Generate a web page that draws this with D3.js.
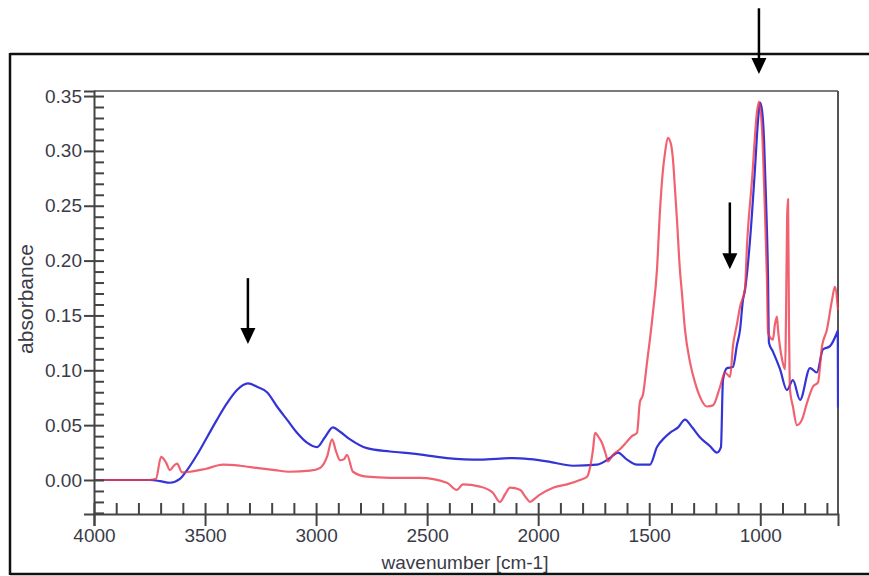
<!DOCTYPE html>
<html>
<head>
<meta charset="utf-8">
<script src="https://cdn.jsdelivr.net/npm/d3@7"></script>
<style>
  html, body { margin: 0; padding: 0; background: #fff; }
  svg { display: block; }
  text { font-family: "Liberation Sans", Arial, sans-serif; }
</style>
</head>
<body>
<svg id="chart" width="869" height="576"></svg>
<script>
// ---------------- data ----------------
const blueWn = [4000,3748,3703,3658,3613,3581,3536,3491,3446,3401,3356,3307,3266,3221,3176,3131,3086,3041,2996,2960,2924,2892,2847,2771,2667,2564,2411,2262,2113,2037,1960,1843,1735,1677,1641,1600,1555,1497,1465,1429,1407,1370,1339,1307,1272,1227,1195,1177,1168,1150,1123,1105,1091,1078,1069,1046,1024,1010,1001,992,983,974,965,961,943,911,880,853,821,776,745,718,686,655,651,650];
const blueAbs = [0.000,0.000,-0.001,-0.0025,0.001,0.009,0.023,0.039,0.055,0.070,0.082,0.088,0.085,0.080,0.067,0.055,0.043,0.034,0.030,0.039,0.048,0.044,0.037,0.029,0.026,0.024,0.020,0.0185,0.020,0.019,0.017,0.013,0.014,0.020,0.025,0.0185,0.014,0.014,0.030,0.039,0.043,0.048,0.055,0.048,0.039,0.031,0.025,0.030,0.091,0.102,0.103,0.123,0.137,0.164,0.173,0.219,0.283,0.328,0.344,0.337,0.310,0.255,0.183,0.125,0.117,0.101,0.082,0.091,0.073,0.102,0.098,0.119,0.122,0.134,0.136,0.066];

const redWn = [4000,3748,3721,3698,3676,3658,3640,3626,3604,3568,3500,3419,3343,3266,3185,3118,3027,2982,2951,2928,2910,2892,2874,2861,2834,2771,2667,2532,2411,2366,2339,2262,2204,2172,2149,2127,2082,2055,2037,2010,1992,1933,1870,1812,1780,1767,1753,1744,1726,1713,1695,1686,1663,1632,1600,1578,1555,1542,1528,1510,1497,1483,1465,1452,1438,1429,1416,1402,1393,1384,1375,1362,1353,1339,1316,1294,1272,1240,1213,1181,1159,1136,1123,1105,1091,1069,1060,1037,1015,1006,992,979,970,965,943,934,925,920,902,888,884,879,875,871,866,853,835,812,790,763,740,722,700,677,664,650];
const redAbs = [0.000,0.000,0.001,0.021,0.016,0.009,0.013,0.015,0.007,0.0075,0.010,0.014,0.013,0.011,0.009,0.0075,0.0085,0.011,0.021,0.037,0.026,0.018,0.019,0.023,0.0075,0.003,0.002,0.002,-0.0025,-0.009,-0.004,-0.006,-0.0116,-0.020,-0.013,-0.007,-0.009,-0.016,-0.020,-0.016,-0.0134,-0.007,-0.004,0.000,0.003,0.011,0.028,0.043,0.0385,0.034,0.023,0.017,0.023,0.028,0.035,0.040,0.043,0.071,0.078,0.107,0.128,0.153,0.192,0.244,0.283,0.298,0.312,0.306,0.292,0.265,0.237,0.192,0.171,0.137,0.107,0.089,0.076,0.067,0.068,0.085,0.098,0.094,0.122,0.142,0.158,0.174,0.213,0.274,0.335,0.345,0.319,0.244,0.183,0.134,0.128,0.142,0.149,0.137,0.110,0.101,0.150,0.240,0.256,0.150,0.082,0.067,0.050,0.055,0.070,0.085,0.089,0.122,0.137,0.164,0.176,0.155];

const xMajorTicks = [4000,3500,3000,2500,2000,1500,1000];
const xMinorTicks = [3900,3800,3700,3600,3400,3300,3200,3100,2900,2800,2700,2600,2400,2300,2200,2100,1900,1800,1700,1600,1400,1300,1200,1100,900,800,700];
const yMajorTicks = [0.00,0.05,0.10,0.15,0.20,0.25,0.30,0.35];
const yMinorTicks = [-0.03,-0.02,-0.01,0.01,0.02,0.03,0.04,0.06,0.07,0.08,0.09,0.11,0.12,0.13,0.14,0.16,0.17,0.18,0.19,0.21,0.22,0.23,0.24,0.26,0.27,0.28,0.29,0.31,0.32,0.33,0.34];

// arrows: [wavenumber, top absorbance, tip absorbance]
const arrowWn  = [3307, 1137, 1006];
const arrowTop = [0.184, 0.253, 0.430];
const arrowTip = [0.124, 0.192, 0.370];

const xTitle = "wavenumber [cm-1]";
const yTitle = "absorbance";

// ---------------- layout ----------------
const L = 94, R = 838, T = 91, B = 514;
const svg = d3.select("#chart");
const x = d3.scaleLinear().domain([4000, 650]).range([L, R]);
const y = d3.scaleLinear().domain([-0.031, 0.3546]).range([B, T]);

svg.append("rect").attr("width", 869).attr("height", 576).attr("fill", "#fff");

// outer frame
const frame = svg.append("g").attr("stroke", "#111").attr("stroke-width", 2.5);
frame.append("line").attr("x1", 10).attr("x2", 869).attr("y1", 54).attr("y2", 54);
frame.append("line").attr("x1", 10).attr("x2", 869).attr("y1", 574).attr("y2", 574);
frame.append("line").attr("x1", 10).attr("x2", 10).attr("y1", 53).attr("y2", 575);

// plot frame (top/right)
svg.append("line").attr("x1", L).attr("x2", R).attr("y1", T).attr("y2", T)
  .attr("stroke", "#7a7a7a").attr("stroke-width", 2);
svg.append("line").attr("x1", R).attr("x2", R).attr("y1", T).attr("y2", B)
  .attr("stroke", "#555", ).attr("stroke-width", 2);

// lines
const line = d3.line().x(d => x(d[0])).y(d => y(d[1])).curve(d3.curveMonotoneX);
const blueData = blueWn.map((w, i) => [w, blueAbs[i]]);
const redData = redWn.map((w, i) => [w, redAbs[i]]);
const clip = svg.append("clipPath").attr("id", "clip")
  .append("rect").attr("x", L).attr("y", T).attr("width", R - L + 1).attr("height", B - T);
const plot = svg.append("g").attr("clip-path", "url(#clip)");
plot.append("path").datum(blueData).attr("d", line)
  .attr("fill", "none").attr("stroke", "#3434d6").attr("stroke-width", 2.2)
  .attr("stroke-linejoin", "round");
plot.append("path").datum(redData).attr("d", line)
  .attr("fill", "none").attr("stroke", "#ee3b4d").attr("stroke-width", 2.2)
  .attr("stroke-opacity", 0.8).attr("stroke-linejoin", "round");

// axes
const textColor = "#3b3b48";
const axisColor = "#444";

svg.append("g").attr("transform", `translate(${L},0)`)
  .call(d3.axisLeft(y).tickValues(yMajorTicks).tickFormat(d3.format(".2f")).tickSize(10).tickPadding(2));
svg.append("g").attr("transform", `translate(${L},0)`)
  .call(d3.axisRight(y).tickValues(yMajorTicks.concat(yMinorTicks)).tickFormat("").tickSize(10))
  .call(g => g.select(".domain").remove());

svg.append("g").attr("transform", `translate(0,${B})`)
  .call(d3.axisBottom(x).tickValues(xMajorTicks).tickFormat(d3.format("d")).tickSize(12).tickPadding(3));
svg.append("g").attr("transform", `translate(0,${B})`)
  .call(d3.axisTop(x).tickValues(xMajorTicks.concat(xMinorTicks)).tickFormat("").tickSize(11))
  .call(g => g.select(".domain").remove());

svg.selectAll(".tick line").attr("stroke", axisColor).attr("stroke-width", 2);
svg.selectAll(".domain").attr("stroke", axisColor).attr("stroke-width", 2);
svg.selectAll(".tick text").attr("fill", textColor).attr("font-size", 19)
  .attr("font-family", "'Liberation Sans', Arial, sans-serif");

// titles
svg.append("text").attr("x", 465).attr("y", 569).attr("text-anchor", "middle")
  .attr("font-size", 19).attr("fill", textColor).text(xTitle);
svg.append("text").attr("transform", "translate(33,299) rotate(-90)")
  .attr("text-anchor", "middle").attr("font-size", 21).attr("fill", textColor).text(yTitle);

// arrows
const arrows = svg.append("g");
arrowWn.forEach((w, i) => {
  const ax = x(w), y1 = y(arrowTop[i]), y2 = y(arrowTip[i]);
  arrows.append("line").attr("x1", ax).attr("x2", ax).attr("y1", y1).attr("y2", y2 - 10)
    .attr("stroke", "#000").attr("stroke-width", 2.5);
  arrows.append("path")
    .attr("d", `M${ax - 7.5},${y2 - 16} L${ax + 7.5},${y2 - 16} L${ax},${y2} Z`)
    .attr("fill", "#000");
});
</script>
</body>
</html>
